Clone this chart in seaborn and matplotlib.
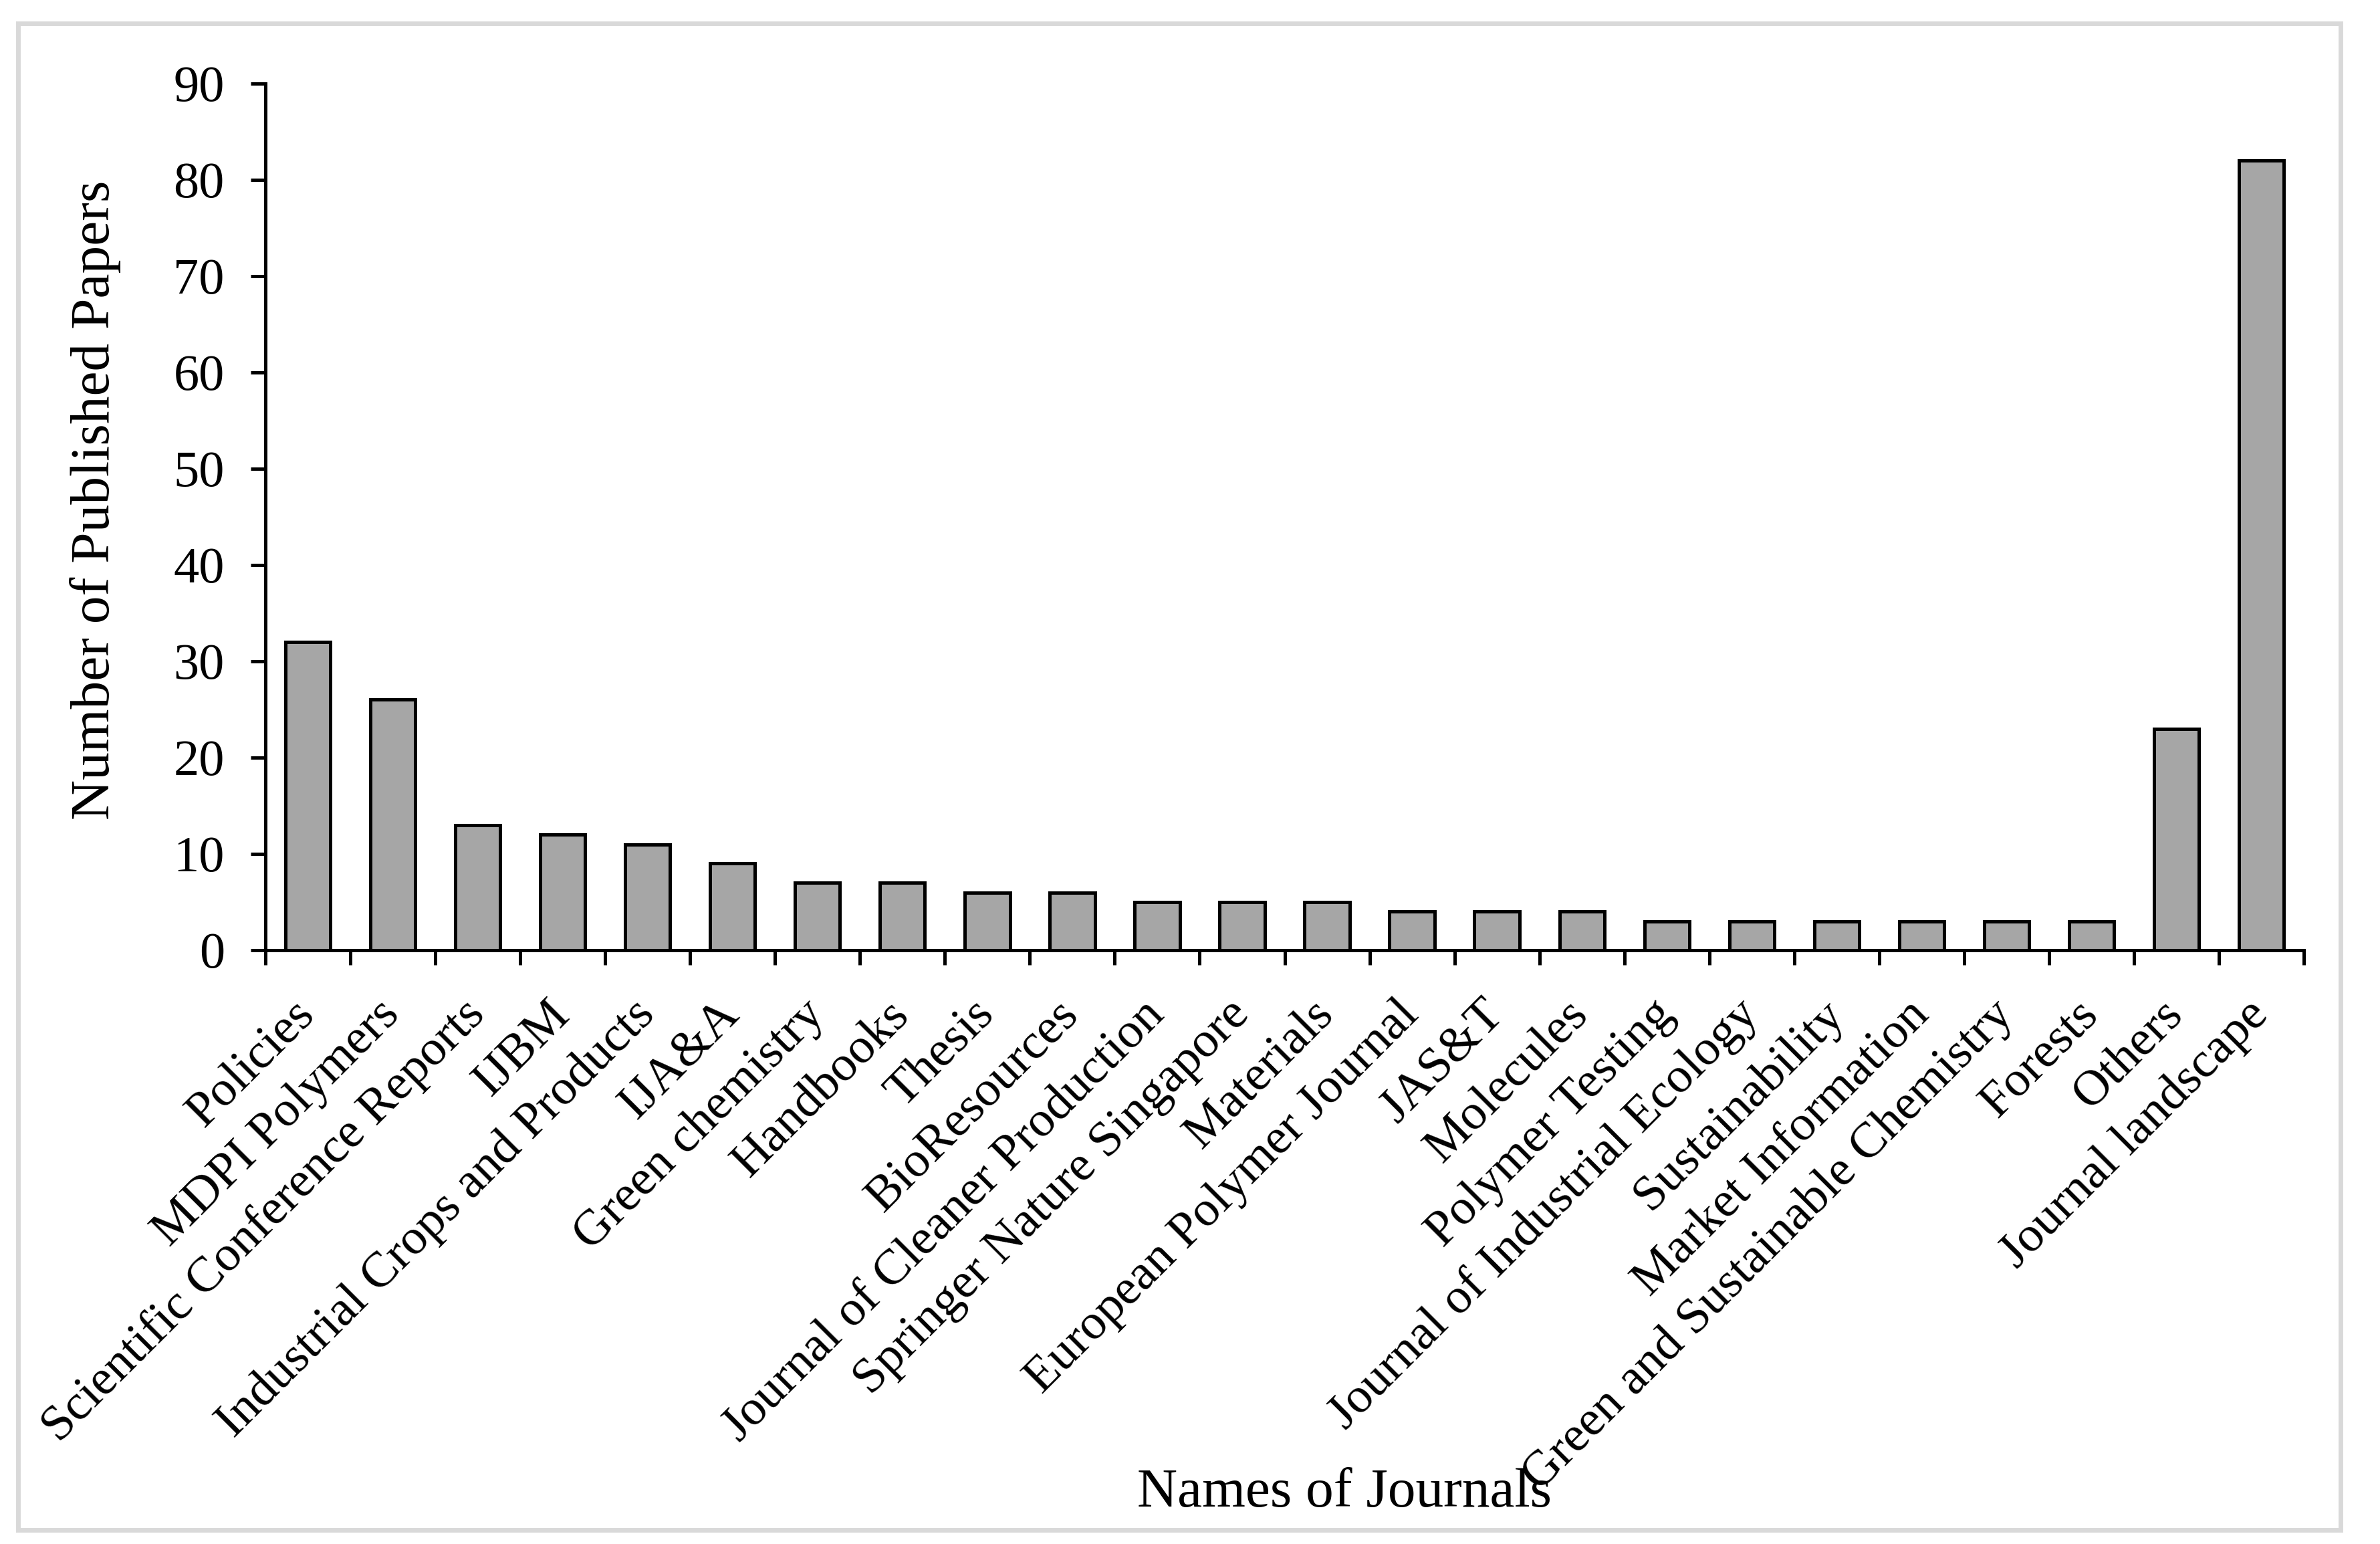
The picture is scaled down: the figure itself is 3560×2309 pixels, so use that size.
import matplotlib
matplotlib.use("Agg")
import matplotlib.pyplot as plt
from matplotlib.patches import Rectangle
import seaborn as sns
import numpy as np

journals = [
    "Policies", "MDPI Polymers", "Scientific Conference Reports", "IJBM",
    "Industrial Crops and Products", "IJA&A", "Green chemistry", "Handbooks",
    "Thesis", "BioResources", "Journal of Cleaner Production",
    "Springer Nature Singapore", "Materials", "European Polymer Journal",
    "JAS&T", "Molecules", "Polymer Testing", "Journal of Industrial Ecology",
    "Sustainability", "Market Information", "Green and Sustainable Chemistry",
    "Forests", "Others", "Journal landscape",
]
papers = [32, 26, 13, 12, 11, 9, 7, 7, 6, 6, 5, 5, 5, 4, 4, 4, 3, 3, 3, 3, 3, 3, 23, 82]
y_ticks = [0, 10, 20, 30, 40, 50, 60, 70, 80, 90]

sns.set_style("ticks")
plt.rcParams["font.family"] = ["Liberation Serif", "DejaVu Serif"]
for key in ["text.color", "xtick.color", "ytick.color", "axes.labelcolor", "axes.edgecolor"]:
    plt.rcParams[key] = "black"

fig = plt.figure(figsize=(35.6, 23.09), dpi=100)
ax = fig.add_axes([0.1115, 0.3846, 0.8565, 0.5614])

sns.barplot(x=journals, y=papers, color="#a6a6a6", saturation=1,
            edgecolor="black", linewidth=3.6, width=0.53, ax=ax)

ax.set_xlim(-0.5, len(journals) - 0.5)
ax.set_ylim(0, 90)
ax.set_yticks(y_ticks)
ax.set_yticklabels([str(t) for t in y_ticks], fontsize=55)

# category labels under each bar, boundary ticks between bars
ax.set_xticks(range(len(journals)))
ax.set_xticklabels(journals, rotation=45, ha="right", va="center",
                   rotation_mode="anchor", fontsize=54)
ax.tick_params(axis="x", which="major", length=0, pad=62)
ax.set_xticks(np.arange(-0.5, len(journals), 1), minor=True)
ax.tick_params(axis="x", which="minor", length=16, width=3.6, direction="out")
ax.tick_params(axis="y", length=16, width=3.6, direction="out", pad=28)

for side in ["top", "right"]:
    ax.spines[side].set_visible(False)
for side in ["left", "bottom"]:
    ax.spines[side].set_linewidth(3.6)

ax.set_xlabel("")
ax.set_ylabel("")
fig.text(0.565, 0.033, "Names of Journals", ha="center", va="center", fontsize=60)
fig.text(0.040, 0.676, "Number of Published Papers", ha="center", va="center",
         rotation=90, fontsize=60)

fig.patches.append(Rectangle((0.0075, 0.009), 0.976, 0.976, transform=fig.transFigure,
                             fill=False, edgecolor="#d9d9d9", linewidth=5))

fig.savefig("out.png", dpi=100, facecolor="white")
